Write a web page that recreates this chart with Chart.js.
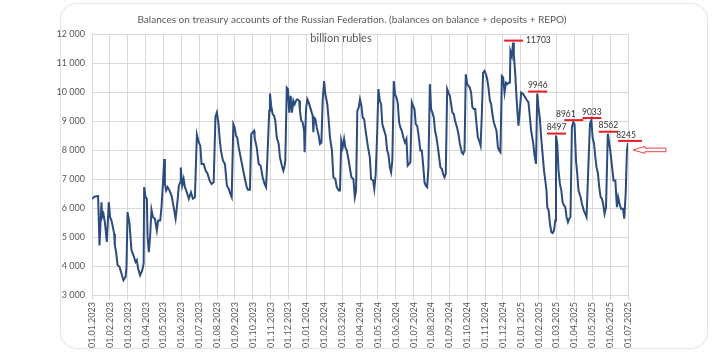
<!DOCTYPE html>
<html>
<head>
<meta charset="utf-8">
<script src="https://cdn.jsdelivr.net/npm/chart.js@4.4.1/dist/chart.umd.min.js"></script>
<style>
  html, body { margin: 0; padding: 0; background: #fff; }
  .card { position: absolute; left: 60px; top: 3px; width: 646px; height: 344px; border: 1px solid #e4e4e4; border-radius: 16px; }
  canvas { position: absolute; left: 0; top: 0; }
</style>
</head>
<body>
<div class="card"></div>
<canvas id="balances" width="722" height="352"></canvas>
<script>
// x = months since 01.01.2023, y = billion rubles
const monthOffset = [
  0.00, 0.16, 0.34, 0.42, 0.53, 0.57, 0.64, 0.72, 0.83, 0.94,
  1.01, 1.09, 1.17, 1.24, 1.28, 1.35, 1.43, 1.54, 1.65, 1.76, 1.88, 1.93, 1.99,
  2.10, 2.21, 2.32, 2.44, 2.51, 2.58, 2.69, 2.81, 2.89, 2.92,
  3.00, 3.07, 3.11, 3.18, 3.25, 3.33, 3.41, 3.52, 3.63, 3.70, 3.82, 3.89, 3.97,
  4.04, 4.08, 4.15, 4.23, 4.34, 4.45, 4.57, 4.68, 4.79, 4.86, 4.94, 4.97,
  5.05, 5.13, 5.20, 5.31, 5.42, 5.54, 5.65, 5.76, 5.87, 5.98,
  6.06, 6.13, 6.25, 6.36, 6.47, 6.58, 6.69, 6.81, 6.91, 6.99,
  7.08, 7.16, 7.22, 7.33, 7.44, 7.55, 7.66, 7.74, 7.82, 7.91, 7.98,
  8.06, 8.13, 8.21, 8.32, 8.43, 8.54, 8.66, 8.73, 8.84, 8.91, 8.99,
  9.07, 9.10, 9.22, 9.33, 9.44, 9.55, 9.66, 9.74, 9.81, 9.92, 9.96,
  10.03, 10.11, 10.19, 10.26, 10.34, 10.45, 10.52, 10.63, 10.71, 10.78, 10.82, 10.90, 10.97,
  11.04, 11.12, 11.19, 11.27, 11.34, 11.42, 11.49, 11.60, 11.64, 11.71, 11.79, 11.87, 11.90, 11.98,
  12.05, 12.13, 12.24, 12.35, 12.39, 12.43, 12.50, 12.58, 12.69, 12.76, 12.84, 12.91, 12.99,
  13.06, 13.17, 13.25, 13.32, 13.43, 13.51, 13.62, 13.70, 13.81, 13.88, 13.95,
  14.03, 14.11, 14.18, 14.26, 14.37, 14.44, 14.52, 14.63, 14.71, 14.78, 14.85, 14.93,
  15.00, 15.08, 15.15, 15.23, 15.34, 15.45, 15.55, 15.62, 15.73, 15.80, 15.88, 15.96,
  16.03, 16.11, 16.18, 16.25, 16.33, 16.44, 16.52, 16.59, 16.67, 16.74, 16.81, 16.89, 16.96,
  17.04, 17.11, 17.19, 17.26, 17.34, 17.45, 17.52, 17.60, 17.67, 17.75, 17.82, 17.90, 17.97,
  18.05, 18.12, 18.20, 18.27, 18.38, 18.46, 18.53, 18.61, 18.68, 18.76, 18.83, 18.91, 18.98,
  19.05, 19.13, 19.20, 19.28, 19.36, 19.43, 19.50, 19.58, 19.65, 19.73, 19.80, 19.88, 19.95,
  20.03, 20.10, 20.17, 20.25, 20.32, 20.43, 20.51, 20.59, 20.70, 20.77, 20.85, 20.92,
  21.00, 21.07, 21.15, 21.22, 21.29, 21.37, 21.45, 21.52, 21.60, 21.67, 21.75, 21.82, 21.89, 21.97,
  22.05, 22.12, 22.19, 22.27, 22.34, 22.41, 22.49, 22.57, 22.64, 22.72, 22.79, 22.86, 22.94,
  23.01, 23.09, 23.17, 23.24, 23.31, 23.39, 23.42, 23.50, 23.57, 23.61, 23.69, 23.76, 23.84, 23.87, 23.95,
  24.02, 24.13, 24.25, 24.36, 24.43, 24.51, 24.58, 24.70, 24.77, 24.85, 24.92, 24.99,
  25.07, 25.14, 25.22, 25.30, 25.37, 25.44, 25.48, 25.56, 25.63, 25.71, 25.78, 25.86, 25.93, 25.97,
  26.04, 26.11, 26.19, 26.27, 26.34, 26.42, 26.49, 26.56, 26.64, 26.71, 26.78, 26.86, 26.94,
  27.01, 27.09, 27.16, 27.23, 27.35, 27.42, 27.53, 27.61, 27.68, 27.76, 27.87, 27.95,
  28.02, 28.10, 28.17, 28.24, 28.32, 28.39, 28.47, 28.54, 28.61, 28.69, 28.77, 28.87,
  29.01, 29.10, 29.19, 29.29, 29.38, 29.45, 29.53, 29.61, 29.72, 29.79, 29.87, 29.94, 30.00
];

const balance = [
  6320, 6400, 6410, 4710, 6200, 5690, 5800, 5510, 4830, 6200,
  5690, 5570, 5340, 5110, 4710, 4480, 4030, 3970, 3740, 3510, 3620, 3970, 5860,
  5460, 4540, 4370, 4140, 4200, 3910, 3680, 3850, 4080, 6720,
  6370, 6320, 5000, 4480, 5000, 5940, 5690, 5630, 5230, 5570, 5570, 6030, 6830,
  7690, 6830, 6600, 6720, 6600, 6430, 6030, 5630, 6260, 6770, 6890, 7400,
  6770, 7000, 6720, 6540, 6320, 6540, 6320, 6370, 8530, 8260,
  8150, 7520, 7520, 7290, 7180, 6950, 6830, 6890, 9150, 9300,
  8900, 8300, 7970, 7630, 7520, 6770, 6660, 6490, 6370, 8890, 8780,
  8490, 8430, 8090, 7750, 7400, 7060, 6720, 6630, 6630, 8550, 8610,
  8660, 8430, 8090, 7520, 7460, 7060, 6830, 6720, 7630, 9350, 9950,
  9520, 9240, 9180, 9010, 8430, 8210, 7750, 7460, 7290, 7460, 7630, 10150, 10100,
  9290, 9870, 9290, 9700, 9580, 9700, 9750, 9700, 9350, 9010, 8950, 8660, 7920, 9410,
  9750, 9640, 9410, 9180, 8610, 9120, 9070, 8780, 8490, 8210, 8260, 9700, 10380,
  9930, 9580, 9010, 8430, 7980, 7060, 7000, 6720, 6600, 6600, 8320,
  8090, 8380, 8090, 7980, 7630, 7350, 7060, 7000, 6370, 6600, 9350, 9470,
  9750, 9520, 9120, 9070, 8550, 8090, 7750, 7000, 6950, 6660, 7180, 8550,
  10100, 9700, 9580, 8890, 8720, 8490, 7980, 7860, 7400, 7230, 7630, 10380, 9930,
  9810, 9640, 8950, 8780, 8660, 8380, 8260, 8380, 7460, 7520, 7580, 9640, 9520,
  9410, 8890, 8840, 8550, 7980, 7980, 7520, 6890, 6770, 6720, 7400, 10270, 9410,
  9290, 9120, 8660, 8430, 8090, 7750, 7400, 7350, 7180, 7060, 7180, 10100, 9980,
  9870, 9580, 9290, 9240, 9010, 8780, 8550, 8210, 7920, 7860, 7980, 10610,
  10270, 10210, 10150, 9980, 9470, 9410, 9410, 8890, 8430, 8320, 8150, 9240, 10670, 10730,
  10610, 10440, 10150, 9700, 9580, 9240, 8950, 8800, 8660, 8090, 7980, 7920, 10550,
  10500, 9980, 10320, 10270, 10320, 10320, 11410, 11240, 11703, 11300, 10610, 9810, 9070, 8840, 9410,
  9980, 9930, 9810, 9700, 9640, 9120, 8660, 8210, 7810, 7520, 9946, 9470,
  9070, 8430, 7860, 7290, 6950, 6600, 6030, 5910, 5460, 5170, 5140, 5230, 5570, 8497,
  8210, 7290, 6830, 6600, 6200, 6090, 6030, 5690, 5510, 5630, 5690, 8780, 8961,
  8890, 7630, 7180, 6600, 6370, 6150, 5910, 5800, 5690, 7060, 8900, 9033,
  8430, 8210, 7750, 7400, 7180, 6720, 6370, 6320, 6140, 5800, 6030, 8562,
  7980, 7460, 6950, 6950, 6030, 6370, 6140, 5970, 5970, 5630, 6490, 7980, 8245
];

// peaks marked with red lines on the chart
const peakValues = [11703, 9946, 8497, 8961, 9033, 8562, 8245];

const yTicks = [3000, 4000, 5000, 6000, 7000, 8000, 9000, 10000, 11000, 12000];
const startYear = 2023;
const monthCount = 30;

const titleText = 'Balances on treasury accounts of the Russian Federation. (balances on balance + deposits + REPO)';
const unitText = 'billion rubles';

if (monthOffset.length !== balance.length) console.error('length mismatch', monthOffset.length, balance.length);

const points = monthOffset.map((m, i) => ({ x: m, y: balance[i] }));

const monthLabel = (i) => {
  const mm = (i % 12) + 1;
  return '01.' + (mm < 10 ? '0' + mm : mm) + '.' + (startYear + Math.floor(i / 12));
};
const spaced = (v) => String(v).replace(/\B(?=(\d{3})+(?!\d))/g, ' ');

const FONT = 'Lato, "Liberation Sans", sans-serif';
const GREY = '#595959';

// title + subtitle
const titles = {
  id: 'titles',
  afterDraw(chart) {
    const ctx = chart.ctx;
    ctx.save();
    ctx.fillStyle = GREY;
    ctx.textAlign = 'center';
    ctx.textBaseline = 'middle';
    ctx.font = '10px ' + FONT;
    ctx.fillText(titleText, 352, 20);
    ctx.font = '11px ' + FONT;
    ctx.fillText(unitText, 341, 38);
    ctx.restore();
  }
};

// red marks over the local peaks + the arrow at the end
const peakMarks = {
  id: 'peakMarks',
  afterDatasetsDraw(chart) {
    const { ctx, scales: { x, y }, chartArea } = chart;
    ctx.save();
    peakValues.forEach((v) => {
      const i = balance.indexOf(v);
      if (i < 0) return;
      const px = x.getPixelForValue(monthOffset[i]);
      const py = y.getPixelForValue(v) - 2;
      const last = i === balance.length - 1;
      const x0 = px - (last ? 10 : 9);
      const x1 = px + (last ? 14 : 10);
      ctx.strokeStyle = '#e81c24';
      ctx.lineWidth = 2;
      ctx.beginPath();
      ctx.moveTo(x0, py);
      ctx.lineTo(x1, py);
      ctx.stroke();

      ctx.fillStyle = '#333';
      ctx.font = '8.5px ' + FONT;
      ctx.textBaseline = 'middle';
      if (v === 11703) {
        ctx.textAlign = 'left';
        ctx.fillText(String(v), x1 + 3, py);
      } else {
        ctx.textAlign = 'center';
        let cx = (x0 + x1) / 2;
        if (v === 8961) cx -= 8;
        if (last) cx -= 4;
        ctx.fillText(String(v), cx, py - 6);
      }
    });

    // hollow arrow pointing at the last value
    const ay = y.getPixelForValue(balance[balance.length - 1]) + 7;
    const tip = chartArea.right + 5;
    ctx.strokeStyle = '#e8464c';
    ctx.fillStyle = '#fff';
    ctx.lineWidth = 1;
    ctx.beginPath();
    ctx.moveTo(tip, ay);
    ctx.lineTo(tip + 12, ay - 3.5);
    ctx.lineTo(tip + 12, ay - 1.8);
    ctx.lineTo(tip + 33, ay - 1.8);
    ctx.lineTo(tip + 33, ay + 1.8);
    ctx.lineTo(tip + 12, ay + 1.8);
    ctx.lineTo(tip + 12, ay + 3.5);
    ctx.closePath();
    ctx.fill();
    ctx.stroke();
    ctx.restore();
  }
};

new Chart(document.getElementById('balances'), {
  type: 'line',
  data: {
    datasets: [{
      data: points,
      borderColor: '#2b4c7e',
      borderWidth: 2,
      pointRadius: 0,
      tension: 0,
      fill: false
    }]
  },
  options: {
    responsive: false,
    animation: false,
    parsing: true,
    layout: { padding: { top: 34, right: 94, bottom: 0, left: 0 } },
    plugins: {
      legend: { display: false },
      tooltip: { enabled: false },
      title: { display: false }
    },
    scales: {
      x: {
        type: 'linear',
        min: 0,
        max: monthCount,
        afterFit: (scale) => { scale.height = 57; },
        afterBuildTicks: (scale) => {
          scale.ticks = Array.from({ length: monthCount + 1 }, (_, i) => ({ value: i }));
        },
        ticks: {
          autoSkip: false,
          minRotation: 90,
          maxRotation: 90,
          padding: 2,
          color: GREY,
          font: { family: FONT, size: 9 },
          callback: (v) => monthLabel(v)
        },
        grid: { color: '#d9d9d9', lineWidth: 1, tickLength: 5 },
        border: { color: '#d9d9d9' }
      },
      y: {
        min: 3000,
        max: 12000,
        afterFit: (scale) => { scale.width = 92; },
        afterBuildTicks: (scale) => {
          scale.ticks = yTicks.map((v) => ({ value: v }));
        },
        ticks: {
          padding: 7,
          color: GREY,
          font: { family: FONT, size: 9 },
          callback: (v) => spaced(v)
        },
        grid: { color: '#d9d9d9', lineWidth: 1, drawTicks: false },
        border: { color: '#d9d9d9' }
      }
    }
  },
  plugins: [titles, peakMarks]
});
</script>
</body>
</html>
